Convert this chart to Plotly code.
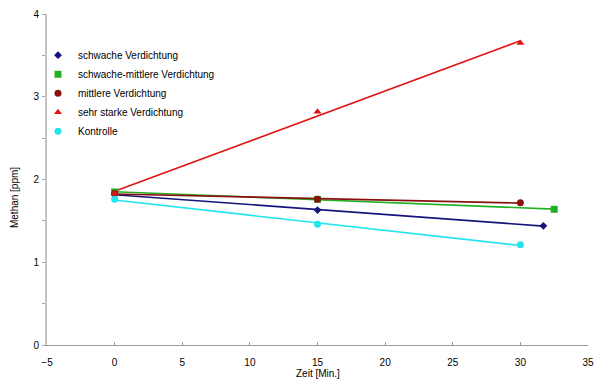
import numpy as np
import plotly.graph_objects as go

series_names = ["schwache Verdichtung", "schwache-mittlere Verdichtung", "mittlere Verdichtung",
                "sehr starke Verdichtung", "Kontrolle"]
x_schwach = [0, 15, 31.7]
y_schwach = [1.82, 1.63, 1.44]
x_schwach_mittel = [0, 15, 32.5]
y_schwach_mittel = [1.85, 1.76, 1.64]
x_mittel = [0, 15, 30]
y_mittel = [1.83, 1.76, 1.72]
x_sehr_stark = [0, 15, 30]
y_sehr_stark = [1.83, 2.82, 3.65]
x_kontrolle = [0, 15, 30]
y_kontrolle = [1.76, 1.46, 1.21]
x_title = "Zeit [Min.]"
y_title = "Methan [ppm]"

colors = ["#14147a", "#22b022", "#8a1010", "#e01414", "#22e4ee"]
symbols = ["diamond", "square", "circle", "triangle-up", "circle"]
sizes = [6, 7, 7, 7, 7]

data = [(x_schwach, y_schwach), (x_schwach_mittel, y_schwach_mittel), (x_mittel, y_mittel),
        (x_sehr_stark, y_sehr_stark), (x_kontrolle, y_kontrolle)]

fig = go.Figure()
# trend lines (linear fits)
for (xs, ys), c in zip(data, colors):
    k, d = np.polyfit(xs, ys, 1)
    xl = [min(xs), max(xs)]
    fig.add_trace(go.Scatter(x=xl, y=[k * v + d for v in xl], mode="lines",
                             line=dict(color=c, width=1.6), showlegend=False, hoverinfo="skip"))
for (xs, ys), c, s, sz, n in zip(data, colors, symbols, sizes, series_names):
    fig.add_trace(go.Scatter(x=xs, y=ys, mode="markers", name=n,
                             marker=dict(color=c, symbol=s, size=sz)))

fnt = dict(family="Liberation Sans, Arial, sans-serif", size=10, color="black")
fig.update_layout(
    width=600, height=375,
    margin=dict(l=39, r=20, t=6, b=38, autoexpand=False),
    paper_bgcolor="white", plot_bgcolor="white",
    font=fnt,
    showlegend=True,
    legend=dict(xref="container", yref="container", x=0.05, y=0.913,
                xanchor="left", yanchor="top", bgcolor="rgba(0,0,0,0)",
                font=dict(family="Liberation Sans, Arial, sans-serif", size=10, color="black"),
                itemwidth=30, tracegroupgap=0),
    xaxis=dict(range=[-5, 35], dtick=5, tick0=-5, showgrid=False, zeroline=False,
               showline=True, linecolor="#9a9a9a", linewidth=1, ticks="inside",
               tickcolor="#9a9a9a", ticklen=3, ticklabelstandoff=8, automargin=False),
    yaxis=dict(range=[0, 4], dtick=1, showgrid=False, zeroline=False,
               showline=True, linecolor="#c4c4c4", linewidth=2, ticks="outside",
               tickcolor="#a8a8a8", ticklen=3, ticklabelstandoff=1, automargin=False,
               minor=dict(dtick=0.5, ticks="outside", ticklen=3, tickcolor="#a8a8a8")),
    annotations=[
        dict(text=x_title, xref="paper", yref="paper", x=0.5, y=-0.0846,
             xanchor="center", yanchor="middle", showarrow=False, font=fnt),
        dict(text=y_title, xref="paper", yref="paper", x=-0.061, y=0.447, textangle=-90,
             xanchor="center", yanchor="middle", showarrow=False, font=fnt),
    ],
)
fig.write_html("out.html")
